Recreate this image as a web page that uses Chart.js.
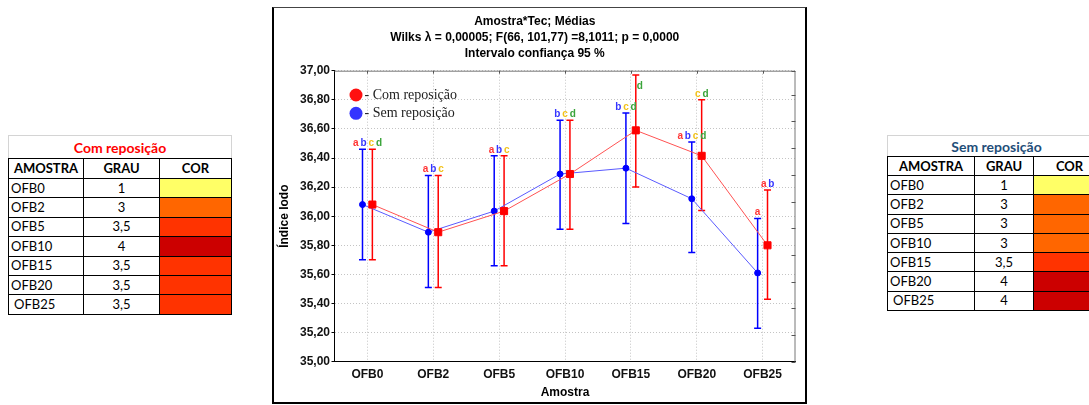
<!DOCTYPE html>
<html>
<head>
<meta charset="utf-8">
<script src="https://cdn.jsdelivr.net/npm/chart.js"></script>
<style>
  html, body { margin: 0; padding: 0; background: #fff; overflow: hidden; width: 1089px; height: 405px; }
  .frame { position: absolute; left: 272px; top: 7px; width: 531px; height: 394px;
           border-left: 2px solid #000; border-right: 2px solid #000; border-bottom: 2px solid #000; border-top: 1px solid #444; }
  canvas { display: block; }
  .tbl { position: absolute; border-collapse: collapse; table-layout: fixed;
         font-family: Lato, "Open Sans", sans-serif; font-size: 13px; color: #000; }
  .tbl td, .tbl th { border: 1px solid #000; padding: 0 2px; white-space: nowrap; overflow: hidden; line-height: 15px; }
  .tbl th { font-weight: bold; text-align: center; }
  .tbl th.cap { border: 1px solid #d4d4d4; border-bottom: 1px solid #000; font-size: 14px; }
  .tbl td.n { text-align: center; }
</style>
</head>
<body>
<table class="tbl" id="tblCom" style="left:8px; top:135px; width:223px;"></table>
<div class="frame"><canvas id="myChart" width="531" height="394"></canvas></div>
<table class="tbl" id="tblSem" style="left:887px; top:135px; width:218px;"></table>

<script>
// amostras
var categories = ["OFB0", "OFB2", "OFB5", "OFB10", "OFB15", "OFB20", "OFB25"];

// Com reposição: média e intervalo 95%
var comMean = [36.08, 35.89, 36.035, 36.29, 36.59, 36.415, 35.80];
var comLow  = [35.70, 35.51, 35.66, 35.91, 36.20, 36.04, 35.43];
var comHigh = [36.46, 36.28, 36.415, 36.66, 36.97, 36.80, 36.18];

// Sem reposição
var semMean = [36.08, 35.89, 36.035, 36.29, 36.33, 36.12, 35.61];
var semLow  = [35.70, 35.51, 35.66, 35.91, 35.95, 35.75, 35.23];
var semHigh = [36.46, 36.28, 36.415, 36.66, 36.71, 36.51, 35.985];

// letras de significância
var lettersPair   = ["abcd", "abc", "abc", "bcd", "", "", ""];
var lettersSem    = ["", "", "", "", "bcd", "abcd", "a"];
var lettersCom    = ["", "", "", "", "", "cd", "ab"];
var lettersComIn  = ["", "", "", "", "d", "", ""];

// tabelas de grau / cor
var grauCom = ["1", "3", "3,5", "4", "3,5", "3,5", "3,5"];
var grauSem = ["1", "3", "3", "3", "3,5", "4", "4"];

var titleLines = ["Amostra*Tec; Médias",
                  "Wilks \u03bb = 0,00005; F(66, 101,77) =8,1011; p = 0,0000",
                  "Intervalo confiança 95 %"];

var grauColors = { "1": "#ffff66", "3": "#ff6600", "3,5": "#ff3300", "4": "#cc0000" };
var letterColors = { a: "#ff3535", b: "#3535ff", c: "#f2c21a", d: "#3aa43a" };
var RED = "#ff0000", BLUE = "#0000ff";
var dodge = 0.075;

function buildTable(id, title, titleColor, grau, widths, capH, headH, rowH) {
  var t = document.getElementById(id);
  var html = '<colgroup>' + widths.map(function (w) { return '<col style="width:' + w + 'px">'; }).join('') + '</colgroup>';
  html += '<tr style="height:' + capH + 'px"><th class="cap" colspan="3" style="color:' + titleColor + '">' + title + '</th></tr>';
  html += '<tr style="height:' + headH + 'px"><th>AMOSTRA</th><th>GRAU</th><th>COR</th></tr>';
  categories.forEach(function (c, i) {
    var pad = i === categories.length - 1 ? 'padding-left:5px' : '';
    html += '<tr style="height:' + rowH + 'px"><td style="' + pad + '">' + c + '</td><td class="n">' + grau[i] +
            '</td><td style="background:' + grauColors[grau[i]] + '"></td></tr>';
  });
  t.innerHTML = html;
}
buildTable("tblCom", "Com reposição", "#ff0000", grauCom, [75, 76, 72], 23, 20, 19.4);
buildTable("tblSem", "Sem reposição", "#1f4e79", grauSem, [87, 59, 72], 21, 19, 19.3);

function pts(arr, shift) {
  return arr.map(function (v, i) { return { x: i + shift, y: v }; });
}

var extras = {
  id: 'extras',
  beforeDatasetsDraw: function (chart) {
    var ctx = chart.ctx, xs = chart.scales.x, ys = chart.scales.y, a = chart.chartArea;
    ctx.save();
    // moldura superior / direita
    ctx.strokeStyle = '#777'; ctx.lineWidth = 1;
    ctx.beginPath();
    ctx.moveTo(a.left, a.top + 0.5); ctx.lineTo(a.right - 0.5, a.top + 0.5); ctx.lineTo(a.right - 0.5, a.bottom);
    ctx.stroke();
    // ticks internos no topo
    ctx.strokeStyle = '#555';
    categories.forEach(function (c, i) {
      var px = Math.round(xs.getPixelForValue(i)) + 0.5;
      ctx.beginPath(); ctx.moveTo(px, a.top); ctx.lineTo(px, a.top + 3); ctx.stroke();
    });
    // ticks internos à direita
    var y2 = chart.scales.y2;
    y2.ticks.forEach(function (t) {
      var py = Math.round(y2.getPixelForValue(t.value)) + 0.5;
      ctx.beginPath(); ctx.moveTo(a.right, py); ctx.lineTo(a.right - 4, py); ctx.stroke();
    });
    // barras de erro
    function bars(low, high, shift, color) {
      ctx.strokeStyle = color; ctx.lineWidth = 1.5;
      low.forEach(function (lo, i) {
        var px = xs.getPixelForValue(i + shift);
        var yl = ys.getPixelForValue(lo), yh = ys.getPixelForValue(high[i]);
        ctx.beginPath();
        ctx.moveTo(px, yl); ctx.lineTo(px, yh);
        ctx.moveTo(px - 3.5, yl); ctx.lineTo(px + 3.5, yl);
        ctx.moveTo(px - 3.5, yh); ctx.lineTo(px + 3.5, yh);
        ctx.stroke();
      });
    }
    bars(semLow, semHigh, -dodge, BLUE);
    bars(comLow, comHigh, dodge, RED);
    ctx.restore();
  },
  afterDatasetsDraw: function (chart) {
    var ctx = chart.ctx, xs = chart.scales.x, ys = chart.scales.y, a = chart.chartArea;
    ctx.save();
    ctx.font = 'bold 10px "Liberation Sans", Arial, sans-serif';
    ctx.textAlign = 'center'; ctx.textBaseline = 'middle';
    function letters(str, cx, cy) {
      var n = str.length, sp = 7.7;
      for (var k = 0; k < n; k++) {
        var ch = str[k];
        ctx.fillStyle = letterColors[ch];
        ctx.fillText(ch, cx + (k - (n - 1) / 2) * sp, cy);
      }
    }
    categories.forEach(function (c, i) {
      if (lettersPair[i]) {
        var top = Math.min(ys.getPixelForValue(comHigh[i]), ys.getPixelForValue(semHigh[i]));
        letters(lettersPair[i], xs.getPixelForValue(i), top - 6);
      }
      if (lettersSem[i]) letters(lettersSem[i], xs.getPixelForValue(i - dodge), ys.getPixelForValue(semHigh[i]) - 6);
      if (lettersCom[i]) letters(lettersCom[i], xs.getPixelForValue(i + dodge), ys.getPixelForValue(comHigh[i]) - 6);
      if (lettersComIn[i]) letters(lettersComIn[i], xs.getPixelForValue(i + dodge) + 4, ys.getPixelForValue(comHigh[i]) + 11);
    });
    // legenda
    ctx.font = '14px "Liberation Serif", "Times New Roman", serif';
    ctx.textAlign = 'left';
    chart.data.datasets.forEach(function (ds, k) {
      var cx = a.left + 21.5, cy = a.top + 24.3 + k * 18.3;
      ctx.fillStyle = ds.legendColor;
      ctx.beginPath(); ctx.arc(cx, cy, 6.5, 0, Math.PI * 2); ctx.fill();
      ctx.fillStyle = '#222';
      ctx.fillText('- ' + ds.label, cx + 8.5, cy);
    });
    ctx.restore();
  }
};

var tickFont = { family: '"Liberation Sans", Arial, sans-serif', size: 12, weight: 'bold' };

new Chart(document.getElementById('myChart'), {
  type: 'line',
  data: {
    datasets: [{
      label: 'Com reposição',
      data: pts(comMean, dodge),
      borderColor: '#ff5252',
      borderWidth: 1,
      backgroundColor: RED,
      pointBackgroundColor: RED,
      pointBorderColor: RED,
      pointStyle: 'rect',
      pointRadius: 5,
      legendColor: '#ff1010',
      tension: 0
    }, {
      label: 'Sem reposição',
      data: pts(semMean, -dodge),
      borderColor: '#5a5aff',
      borderWidth: 1,
      backgroundColor: BLUE,
      pointBackgroundColor: BLUE,
      pointBorderColor: BLUE,
      pointStyle: 'circle',
      pointRadius: 3,
      legendColor: '#3434ff',
      tension: 0
    }]
  },
  options: {
    responsive: false,
    animation: false,
    devicePixelRatio: 1,
    layout: { padding: { top: 0, left: 0, right: 9.5, bottom: 0 } },
    plugins: {
      legend: { display: false },
      tooltip: { enabled: false },
      title: {
        display: true,
        text: titleLines,
        color: '#000',
        font: { family: '"Liberation Sans", Arial, sans-serif', size: 12, weight: 'bold', lineHeight: 16 / 12 },
        padding: { top: 6, bottom: 8.7 }
      }
    },
    scales: {
      x: {
        type: 'linear',
        min: -0.5,
        max: categories.length - 0.5,
        afterBuildTicks: function (s) { s.ticks = categories.map(function (c, i) { return { value: i }; }); },
        afterFit: function (s) { s.height = 40.3; },
        ticks: { color: '#111', font: tickFont, padding: 6, autoSkip: false, maxRotation: 0,
                 callback: function (v) { return categories[v]; } },
        grid: { color: '#c4c4c4', lineWidth: 1, drawTicks: false },
        border: { display: true, color: '#000', width: 1, dash: [1, 2] },
        title: { display: true, text: 'Amostra', color: '#000', font: tickFont, padding: { top: 0, bottom: 1.8 } }
      },
      y: {
        min: 35, max: 37,
        afterFit: function (s) { s.width = 60.5; },
        ticks: { stepSize: 0.2, color: '#111', font: tickFont, padding: 1.5,
                 callback: function (v) { return v.toFixed(2).replace('.', ','); } },
        grid: { color: '#c4c4c4', lineWidth: 1, drawTicks: true, tickLength: 3, tickColor: '#000', tickBorderDash: [] },
        border: { display: true, color: '#000', width: 1, dash: [1, 2] },
        title: { display: true, text: 'Índice Iodo', color: '#000', font: tickFont, padding: { top: 3, bottom: 0 } }
      },
      y2: {
        type: 'linear', position: 'right', min: 0, max: 10.9, display: false,
        ticks: { stepSize: 1 }
      }
    }
  },
  plugins: [extras]
});
</script>
</body>
</html>
